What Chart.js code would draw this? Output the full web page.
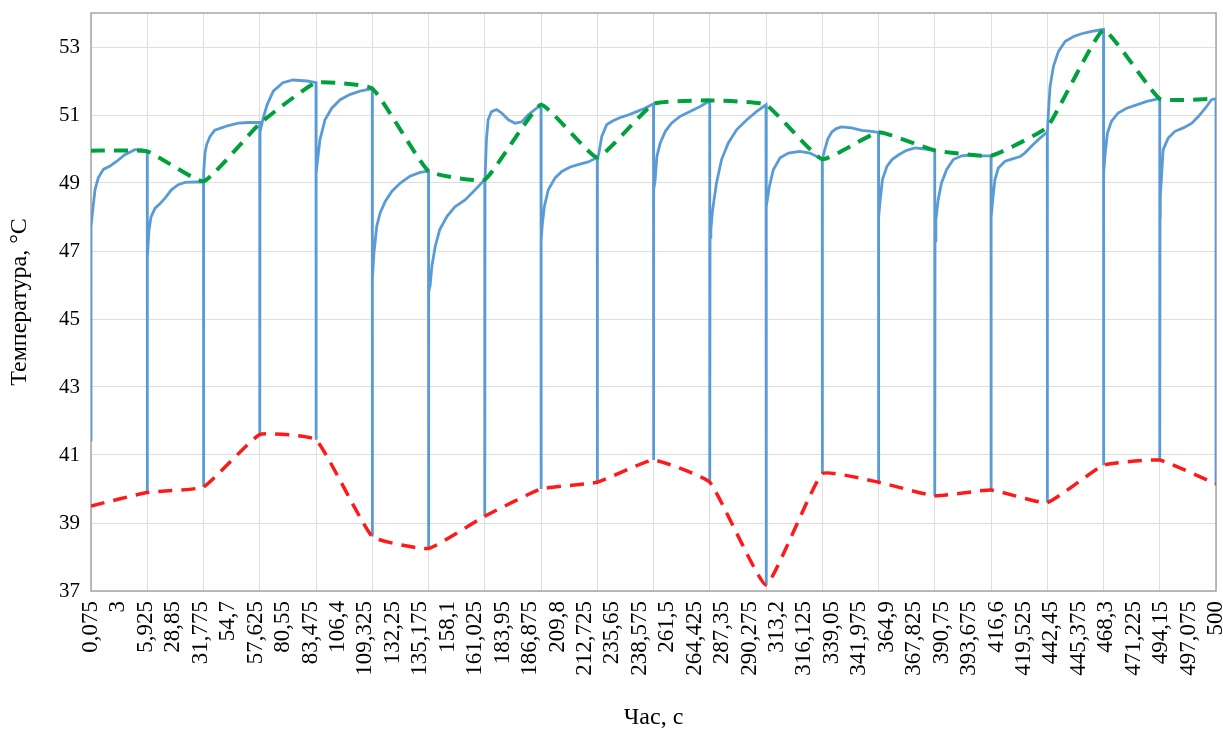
<!DOCTYPE html>
<html>
<head>
<meta charset="utf-8">
<script src="https://cdn.jsdelivr.net/npm/chart.js@4.4.1/dist/chart.umd.min.js"></script>
<style>
  html, body { margin: 0; padding: 0; background: #fff; }
</style>
</head>
<body>
<canvas id="grafico" width="1223" height="733"></canvas>
<script>
// підписи осі часу (категорії)
const timeLabels = [
  "0,075", "3", "5,925", "28,85", "31,775", "54,7", "57,625", "80,55", "83,475", "106,4",
  "109,325", "132,25", "135,175", "158,1", "161,025", "183,95", "186,875", "209,8", "212,725", "235,65",
  "238,575", "261,5", "264,425", "287,35", "290,275", "313,2", "316,125", "339,05", "341,975", "364,9",
  "367,825", "390,75", "393,675", "416,6", "419,525", "442,45", "445,375", "468,3", "471,225", "494,15",
  "497,075", "500"
];
const tempTicks = [37, 39, 41, 43, 45, 47, 49, 51, 53];

// номер циклу (межі циклів)
const cycles = [0, 1, 2, 3, 4, 5, 6, 7, 8, 9, 10, 11, 12, 13, 14, 15, 16, 17, 18, 19, 20];
// максимуми (зелена) та мінімуми (червона)
const peakTemp = [49.95, 49.93, 49.05, 50.75, 51.95, 51.78, 49.35, 49.1, 51.3, 49.75, 51.33,
                  51.43, 51.3, 49.7, 50.49, 49.96, 49.8, 50.65, 53.5, 51.48, 51.48];
const minTemp = [39.5, 39.9, 40.06, 41.6, 41.45, 38.6, 38.25, 39.2, 40.0, 40.2, 40.85,
                 40.2, 37.18, 40.45, 40.2, 39.8, 39.97, 39.6, 40.7, 40.85, 40.15];

// синя крива: положення (у циклах) і температура
const bluePos = [
  0, 0, 0.024, 0.071, 0.13, 0.22, 0.34, 0.46, 0.6, 0.78, 0.9, 1.0,
  1, 1.003, 1.03, 1.067, 1.14, 1.23, 1.32, 1.43, 1.55, 1.67, 1.85, 2.0,
  2, 2.005, 2.027, 2.056, 2.116, 2.2, 2.32, 2.44, 2.62, 2.8, 3.0,
  3, 3.005, 3.06, 3.13, 3.24, 3.41, 3.59, 3.84, 4.0,
  4, 4.005, 4.07, 4.16, 4.28, 4.43, 4.6, 4.78, 4.96, 5.0,
  5, 5.005, 5.03, 5.08, 5.14, 5.23, 5.35, 5.5, 5.67, 5.85, 6.0,
  6, 6.005, 6.03, 6.06, 6.12, 6.2, 6.33, 6.47, 6.65, 6.83, 7.0,
  7, 7.005, 7.03, 7.06, 7.12, 7.21, 7.3, 7.42, 7.54, 7.66, 7.77, 7.89, 8.0,
  8, 8.005, 8.02, 8.06, 8.13, 8.25, 8.37, 8.52, 8.66, 8.84, 9.0,
  9, 9.005, 9.03, 9.08, 9.17, 9.29, 9.43, 9.55, 9.7, 9.85, 9.94, 10.0,
  10, 10.005, 10.03, 10.06, 10.12, 10.21, 10.32, 10.47, 10.65, 10.83, 11.0,
  11, 11.005, 11.02, 11.05, 11.12, 11.21, 11.33, 11.48, 11.66, 11.83, 12.0,
  12, 12.005, 12.01, 12.06, 12.13, 12.25, 12.4, 12.6, 12.78, 13.0,
  13, 13.005, 13.04, 13.1, 13.17, 13.25, 13.34, 13.52, 13.7, 13.88, 14.0,
  14, 14.005, 14.03, 14.07, 14.15, 14.24, 14.36, 14.5, 14.65, 14.83, 15.0,
  15, 15.005, 15.02, 15.06, 15.12, 15.21, 15.33, 15.48, 15.66, 15.83, 16.0,
  16, 16.005, 16.03, 16.07, 16.13, 16.25, 16.37, 16.52, 16.6, 16.75, 16.87, 17.0,
  17, 17.005, 17.02, 17.05, 17.11, 17.2, 17.32, 17.47, 17.61, 17.79, 17.93, 18.0,
  18, 18.005, 18.03, 18.07, 18.14, 18.26, 18.41, 18.59, 18.77, 18.95, 19.0,
  19, 19.005, 19.01, 19.06, 19.15, 19.27, 19.42, 19.57, 19.69, 19.81, 19.92, 20.0,
  20, 20
];
const blueTemp = [
  41.4, 47.7, 48.1, 48.8, 49.15, 49.4, 49.5, 49.64, 49.83, 49.98, 49.98, 49.93,
  39.9, 46.8, 47.6, 48.0, 48.26, 48.4, 48.56, 48.8, 48.95, 49.02, 49.03, 49.03,
  40.06, 49.3, 49.88, 50.13, 50.37, 50.55, 50.62, 50.69, 50.76, 50.78, 50.78,
  41.6, 50.5, 50.9, 51.3, 51.7, 51.95, 52.03, 52.0, 51.95,
  41.45, 49.3, 50.27, 50.86, 51.2, 51.45, 51.6, 51.7, 51.76, 51.78,
  38.6, 46.2, 46.94, 47.73, 48.12, 48.46, 48.76, 49.0, 49.2, 49.31, 49.35,
  38.25, 45.8, 46.0, 46.55, 47.14, 47.63, 48.02, 48.3, 48.5, 48.8, 49.1,
  39.2, 49.1, 50.27, 50.86, 51.1, 51.16, 51.06, 50.86, 50.76, 50.8, 51.0, 51.16, 51.3,
  40.0, 47.3, 47.73, 48.31, 48.8, 49.15, 49.34, 49.47, 49.54, 49.62, 49.75,
  40.2, 49.7, 49.88, 50.37, 50.72, 50.84, 50.94, 51.0, 51.1, 51.2, 51.28, 51.33,
  40.85, 48.8, 49.1, 49.78, 50.18, 50.52, 50.76, 50.96, 51.1, 51.25, 51.42,
  40.2, 47.4, 47.63, 48.2, 49.0, 49.69, 50.18, 50.57, 50.86, 51.1, 51.3,
  37.18, 48.0, 48.31, 48.9, 49.39, 49.74, 49.88, 49.93, 49.88, 49.7,
  40.45, 49.7, 49.95, 50.3, 50.5, 50.6, 50.65, 50.62, 50.55, 50.52, 50.49,
  40.2, 48.0, 48.5, 49.1, 49.49, 49.69, 49.83, 49.96, 50.03, 50.0, 49.95,
  39.8, 47.3, 47.92, 48.5, 49.0, 49.39, 49.69, 49.8, 49.83, 49.8, 49.8,
  39.97, 48.0, 48.5, 49.1, 49.44, 49.64, 49.7, 49.78, 49.88, 50.13, 50.32, 50.5,
  39.6, 50.5, 51.06, 51.84, 52.43, 52.87, 53.17, 53.31, 53.39, 53.46, 53.5, 53.52,
  40.7, 49.3, 49.88, 50.47, 50.81, 51.06, 51.2, 51.3, 51.4, 51.47, 51.48,
  40.85, 48.0, 48.6, 49.98, 50.32, 50.52, 50.62, 50.76, 50.96, 51.2, 51.45, 51.48,
  40.15, 45.9
];

const serif = "'Liberation Serif', 'Times New Roman', serif";

// рамка навколо області графіка
const marco = {
  id: "marco",
  beforeDatasetsDraw(chart) {
    const { ctx, chartArea: a } = chart;
    ctx.save();
    ctx.strokeStyle = "#a6a6a6";
    ctx.lineWidth = 1.5;
    ctx.strokeRect(a.left, a.top, a.right - a.left, a.bottom - a.top);
    ctx.restore();
  }
};

function noPad(s) {
  s.paddingLeft = 0;
  s.paddingRight = 0;
  s.paddingTop = 0;
  s.paddingBottom = 0;
}

new Chart(document.getElementById("grafico"), {
  type: "line",
  data: {
    datasets: [
      {
        data: cycles.map((c, i) => ({ x: c, y: peakTemp[i] })),
        borderColor: "#00a13d",
        borderWidth: 4,
        borderDash: [14, 9],
        tension: 0.12,
        pointRadius: 0,
        order: 1
      },
      {
        data: cycles.map((c, i) => ({ x: c, y: minTemp[i] })),
        borderColor: "#ff1a1a",
        borderWidth: 3.5,
        borderDash: [14, 9],
        tension: 0.12,
        pointRadius: 0,
        order: 1
      },
      {
        data: bluePos.map((p, i) => ({ x: p, y: blueTemp[i] })),
        borderColor: "#5b9bd5",
        borderWidth: 2.8,
        tension: 0,
        pointRadius: 0,
        order: 2
      }
    ]
  },
  options: {
    responsive: false,
    devicePixelRatio: 1,
    animation: false,
    layout: { padding: { left: 5, right: 7, top: 13, bottom: 1 } },
    plugins: { legend: { display: false }, tooltip: { enabled: false } },
    scales: {
      x: {
        type: "linear",
        min: 0,
        max: 20,
        afterBuildTicks: s => {
          s.ticks = timeLabels.map((t, i) => ({ value: i * 20 / (timeLabels.length - 1) }));
        },
        afterFit: s => { s.height = 141; noPad(s); },
        grid: { display: false, drawTicks: false },
        border: { display: false },
        ticks: {
          autoSkip: false,
          maxRotation: 90,
          minRotation: 90,
          padding: 10,
          color: "#000",
          font: { family: serif, size: 23 },
          callback: (v, i) => timeLabels[i]
        },
        title: {
          display: true,
          text: "Час, с",
          color: "#000",
          font: { family: serif, size: 24 },
          padding: 0
        }
      },
      xg: {
        type: "linear",
        position: "top",
        min: 0,
        max: 20,
        afterBuildTicks: s => { s.ticks = cycles.map(c => ({ value: c })); },
        afterFit: s => { s.height = 0; noPad(s); },
        ticks: { display: false },
        grid: { color: "#dedede", drawTicks: false },
        border: { display: false }
      },
      y: {
        min: 37,
        max: 54,
        afterBuildTicks: s => { s.ticks = tempTicks.map(v => ({ value: v })); },
        afterFit: s => { s.width = 86; noPad(s); },
        grid: { color: "#dedede", drawTicks: false },
        border: { display: false },
        ticks: {
          padding: 11,
          color: "#000",
          font: { family: serif, size: 21 }
        },
        title: {
          display: true,
          text: "Температура, °C",
          color: "#000",
          font: { family: serif, size: 24 },
          padding: 0
        }
      }
    }
  },
  plugins: [marco]
});
</script>
</body>
</html>
